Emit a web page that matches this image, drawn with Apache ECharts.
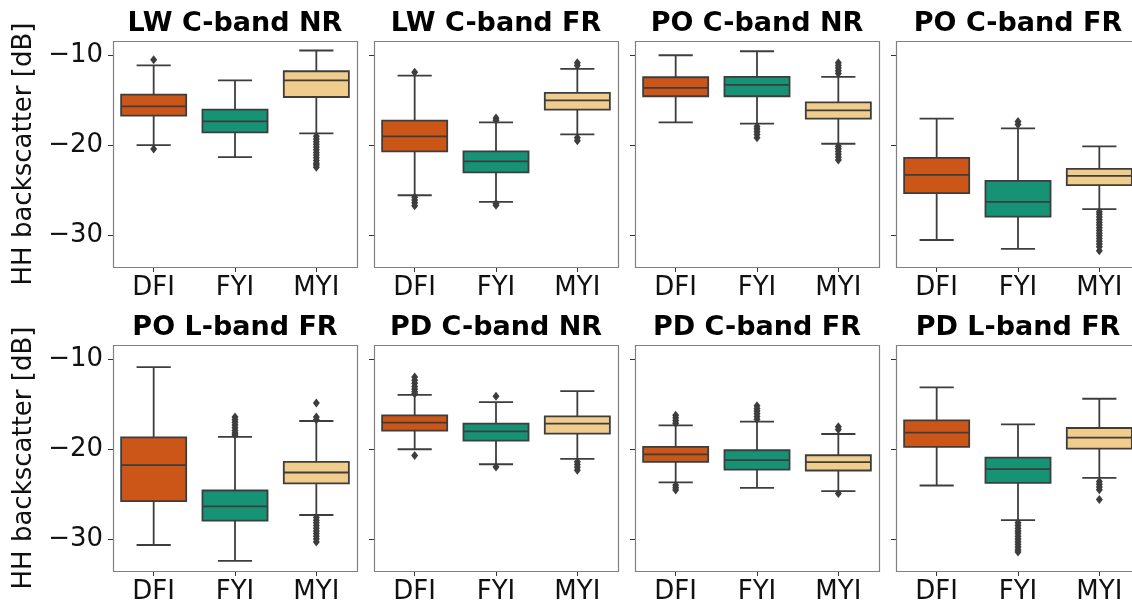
<!DOCTYPE html>
<html><head><meta charset="utf-8">
<script src="https://cdn.jsdelivr.net/npm/echarts@6/dist/echarts.min.js"></script>
<style>html,body{margin:0;padding:0;background:#fff}#c{width:1132px;height:605px}</style>
</head><body><div id="c"></div>
<script>
const categories = ['DFI', 'FYI', 'MYI'];
const panelTitles = ['LW C-band NR', 'LW C-band FR', 'PO C-band NR', 'PO C-band FR',
                     'PO L-band FR', 'PD C-band NR', 'PD C-band FR', 'PD L-band FR'];
const yTicks = [-30, -20, -10];
const yLabel = 'HH backscatter [dB]';

// Box statistics per category: [lower whisker, Q1, median, Q3, upper whisker] (dB)
const lwCNR = [[-19.98, -16.7, -15.66, -14.36, -11.1], [-21.32, -18.57, -17.34, -16.03, -12.76], [-18.68, -14.62, -12.76, -11.75, -9.44]];
const lwCFR = [[-25.57, -20.69, -19.01, -17.26, -12.23], [-26.31, -23.03, -21.8, -20.69, -17.45], [-18.79, -16.03, -14.99, -14.17, -11.49]];
const poCNR = [[-17.45, -14.54, -13.61, -12.42, -9.97], [-17.6, -14.54, -13.27, -12.38, -9.52], [-19.83, -17.04, -16.11, -15.22, -12.38]];
const poCFR = [[-30.56, -25.34, -23.3, -21.4, -17.04], [-31.56, -27.95, -26.31, -23.97, -18.12], [-27.13, -24.45, -23.41, -22.63, -20.13]];
const poLFR = [[-30.67, -25.78, -21.78, -18.67, -10.85], [-32.44, -27.96, -26.37, -24.6, -18.63], [-27.33, -23.81, -22.59, -21.41, -16.85]];
const pdCNR = [[-20.0, -17.93, -17.04, -16.22, -13.93], [-21.67, -19.04, -18.0, -17.15, -14.74], [-21.07, -18.26, -17.15, -16.33, -13.52]];
const pdCFR = [[-23.7, -21.41, -20.56, -19.74, -17.33], [-24.3, -22.26, -21.22, -20.11, -16.93], [-24.67, -22.37, -21.44, -20.67, -18.3]];
const pdLFR = [[-24.04, -19.74, -18.15, -16.78, -13.11], [-27.89, -23.74, -22.22, -20.93, -17.22], [-23.19, -19.93, -18.7, -17.63, -14.37]];

// Outliers per category (dB)
const lwCNROut = [[-10.48, -20.43], [], [-19.0, -19.3, -19.6, -19.9, -20.2, -20.5, -20.8, -21.1, -21.4, -21.7, -22.0, -22.2, -22.45]];
const lwCFROut = [[-11.85, -25.8, -26.1, -26.4, -26.75], [-16.95, -17.2, -26.5, -26.7], [-10.8, -11.1, -19.15, -19.5]];
const poCNROut = [[], [-17.9, -18.2, -18.5, -18.8, -19.15], [-10.8, -11.1, -11.4, -11.7, -12.0, -20.1, -20.4, -20.7, -21.0, -21.3, -21.65]];
const poCFROut = [[], [-17.35, -17.7], [-27.4, -27.7, -28.0, -28.3, -28.6, -28.9, -29.2, -29.5, -29.8, -30.1, -30.4, -30.7, -31.0, -31.3, -31.75]];
const poLFROut = [[], [-16.4, -16.7, -17.0, -17.3, -17.6, -17.9, -18.2, -18.4], [-14.85, -16.4, -16.7, -27.6, -27.9, -28.2, -28.5, -28.8, -29.1, -29.4, -29.7, -30.0, -30.35]];
const pdCNROut = [[-11.95, -12.3, -12.65, -13.0, -13.3, -13.6, -13.8, -20.7], [-14.1, -21.97], [-21.4, -21.7, -22.0, -22.35]];
const pdCFROut = [[-16.2, -16.5, -16.8, -17.1, -24.0, -24.3, -24.55], [-15.15, -15.45, -15.75, -16.05, -16.35, -16.65], [-17.5, -17.8, -24.93]];
const pdLFROut = [[], [-28.2, -28.5, -28.8, -29.1, -29.4, -29.7, -30.0, -30.3, -30.6, -30.9, -31.2, -31.45], [-23.6, -23.9, -24.2, -24.5, -25.6]];

const panelStats = [lwCNR, lwCFR, poCNR, poCFR, poLFR, pdCNR, pdCFR, pdLFR];
const panelOut = [lwCNROut, lwCFROut, poCNROut, poCFROut, poLFROut, pdCNROut, pdCFROut, pdLFROut];

// ---- styling / layout ----
const boxColors = ['#CB5618', '#169275', '#F0CD8C'];
const lineColor = '#3d3d3d';
const colLeft = [113, 374, 635, 896];
const rowTop = [41, 345];
const panelW = 244, panelH = 226;
const yMin = -33.57, yMax = -8.38;
const FONT = 'DejaVu Sans';

function renderBox(params, api) {
  const ci = api.value(0);
  const lo = api.coord([ci, api.value(1)]);
  const q1 = api.coord([ci, api.value(2)]);
  const md = api.coord([ci, api.value(3)]);
  const q3 = api.coord([ci, api.value(4)]);
  const hi = api.coord([ci, api.value(5)]);
  const band = api.size([1, 0])[0];
  const bw = band * 0.8, cw = band * 0.42;
  const cx = lo[0];
  const st = { stroke: lineColor, lineWidth: 1.8 };
  return {
    type: 'group', children: [
      { type: 'line', shape: { x1: cx, y1: hi[1], x2: cx, y2: q3[1] }, style: st },
      { type: 'line', shape: { x1: cx, y1: q1[1], x2: cx, y2: lo[1] }, style: st },
      { type: 'line', shape: { x1: cx - cw / 2, y1: hi[1], x2: cx + cw / 2, y2: hi[1] }, style: st },
      { type: 'line', shape: { x1: cx - cw / 2, y1: lo[1], x2: cx + cw / 2, y2: lo[1] }, style: st },
      { type: 'rect', shape: { x: cx - bw / 2, y: q3[1], width: bw, height: q1[1] - q3[1] },
        style: { fill: boxColors[ci], stroke: lineColor, lineWidth: 1.8 } },
      { type: 'line', shape: { x1: cx - bw / 2, y1: md[1], x2: cx + bw / 2, y2: md[1] }, style: st }
    ]
  };
}

const grids = [], xAxes = [], yAxes = [], series = [], graphics = [];
for (let p = 0; p < 8; p++) {
  const r = Math.floor(p / 4), c = p % 4;
  grids.push({ left: colLeft[c], top: rowTop[r], width: panelW, height: panelH,
    outerBoundsMode: 'none', containLabel: false, show: false });
  xAxes.push({ type: 'category', gridIndex: p, data: categories,
    axisLine: { show: false },
    axisTick: { show: true, alignWithLabel: true, length: 5, lineStyle: { color: '#333', width: 1 } },
    axisLabel: { fontSize: 26, color: '#111', fontFamily: FONT, margin: 8 } });
  yAxes.push({ type: 'value', gridIndex: p, min: yMin, max: yMax,
    splitLine: { show: false },
    axisLine: { show: false },
    axisTick: { show: true, length: 5, lineStyle: { color: '#333', width: 1 }, customValues: yTicks },
    axisLabel: { show: c === 0, customValues: yTicks, fontSize: 26, color: '#111', fontFamily: FONT, margin: 10,
      padding: [3, 0, 0, 0],
      formatter: v => String(v).replace('-', '\u2212') },
    name: c === 0 ? yLabel : '', nameLocation: 'middle', nameGap: 76,
    nameTextStyle: { fontSize: 26, color: '#111', fontFamily: FONT } });
  series.push({ type: 'custom', xAxisIndex: p, yAxisIndex: p, renderItem: renderBox,
    encode: { x: 0, y: [1, 2, 3, 4, 5] },
    data: panelStats[p].map((s, i) => [i].concat(s)), z: 2 });
  const outPts = [];
  panelOut[p].forEach((arr, i) => arr.forEach(v => outPts.push([i, v])));
  series.push({ type: 'scatter', xAxisIndex: p, yAxisIndex: p, data: outPts,
    symbol: 'diamond', symbolSize: [7, 9], itemStyle: { color: lineColor, opacity: 1 }, z: 3, silent: true });
  graphics.push({ type: 'rect', z: 1, silent: true,
    shape: { x: colLeft[c] + 0.5, y: rowTop[r] + 0.5, width: panelW, height: panelH },
    style: { fill: 'none', stroke: '#808080', lineWidth: 1.2 } });
  graphics.push({ type: 'text', x: colLeft[c] + panelW / 2, y: rowTop[r] - 17,
    style: { text: panelTitles[p], textAlign: 'center', textVerticalAlign: 'middle',
      font: 'bold 27px "DejaVu Sans"', fill: '#000' } });
}

const chart = echarts.init(document.getElementById('c'), null, { renderer: 'canvas' });
chart.setOption({ animation: false, backgroundColor: '#fff',
  grid: grids, xAxis: xAxes, yAxis: yAxes, series: series, graphic: graphics });
</script></body></html>
